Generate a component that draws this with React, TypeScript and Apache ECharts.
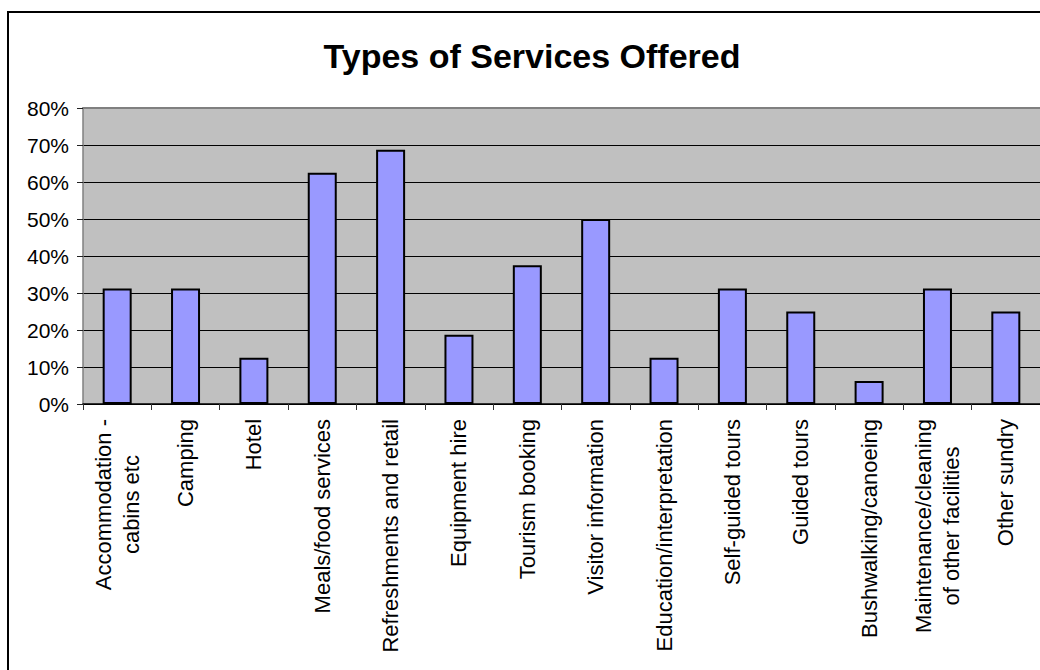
import React, { useEffect, useRef } from "react";
import * as echarts from "echarts";

const titleText = "Types of Services Offered";
const categories = [
  "Accommodation -\ncabins etc",
  "Camping",
  "Hotel",
  "Meals/food services",
  "Refreshments and retail",
  "Equipment hire",
  "Tourism booking",
  "Visitor information",
  "Education/interpretation",
  "Self-guided tours",
  "Guided tours",
  "Bushwalking/canoeing",
  "Maintenance/cleaning\nof other facilities",
  "Other sundry",
];
const values = [31.25, 31.25, 12.5, 62.5, 68.75, 18.75, 37.5, 50, 12.5, 31.25, 25, 6.25, 31.25, 25];
const yMin = 0;
const yMax = 80;
const yStep = 10;

const FONT = "'Liberation Sans', Arial, Helvetica, sans-serif";

export default function App() {
  const ref = useRef<HTMLDivElement>(null);
  useEffect(() => {
    if (!ref.current) return;
    const chart = echarts.init(ref.current, null, { renderer: "svg" });
    chart.setOption({
      animation: false,
      backgroundColor: "#ffffff",
      grid: {
        left: 83,
        top: 108,
        width: 957,
        height: 296,
        show: true,
        backgroundColor: "#C0C0C0",
        borderWidth: 0,
      },
      graphic: [
        {
          type: "rect",
          shape: { x: 8, y: 12, width: 1200, height: 800 },
          style: { fill: "none", stroke: "#000", lineWidth: 2 },
          z: 100,
        },
        {
          type: "text",
          x: 532,
          y: 56,
          style: {
            text: titleText,
            fontFamily: FONT,
            fontSize: 34,
            fontWeight: "bold",
            fill: "#000",
            align: "center",
            verticalAlign: "middle",
          },
        },
      ],
      xAxis: [
        {
          type: "category",
          data: categories,
          position: "bottom",
          axisLine: { show: true, lineStyle: { color: "#000", width: 1.5 } },
          axisTick: { show: true, length: 6, lineStyle: { color: "#333" } },
          axisLabel: {
            rotate: 90,
            interval: 0,
            margin: 15,
            fontFamily: FONT,
            fontSize: 22,
            color: "#000",
            formatter: (v: string) =>
              v
                .split("\n")
                .map((l) => `{c|${l}}`)
                .join("\n"),
            rich: {
              c: { align: "center", fontFamily: FONT, fontSize: 22, lineHeight: 28, color: "#000" },
            },
          },
          splitLine: { show: false },
        },
        {
          type: "category",
          data: categories,
          position: "top",
          axisLine: { show: true, lineStyle: { color: "#808080", width: 2 } },
          axisTick: { show: false },
          axisLabel: { show: false },
          splitLine: { show: false },
        },
      ],
      yAxis: {
        type: "value",
        min: yMin,
        max: yMax,
        interval: yStep,
        axisLine: { show: true, lineStyle: { color: "#808080", width: 1.5 } },
        axisTick: { show: true, length: 6, lineStyle: { color: "#222" } },
        axisLabel: {
          margin: 14,
          fontFamily: FONT,
          fontSize: 21,
          color: "#000",
          formatter: (v: number) => `${v}%`,
        },
        splitLine: { show: true, lineStyle: { color: "#000", width: 1 } },
      },
      series: [
        {
          type: "bar",
          data: values,
          barWidth: 29,
          itemStyle: { color: "#9999FF", borderColor: "#000", borderWidth: 2 },
        },
      ],
    });
    return () => chart.dispose();
  }, []);
  return (
    <div
      ref={ref}
      style={{ position: "absolute", left: 0, top: 0, width: 1040, height: 670 }}
    />
  );
}
